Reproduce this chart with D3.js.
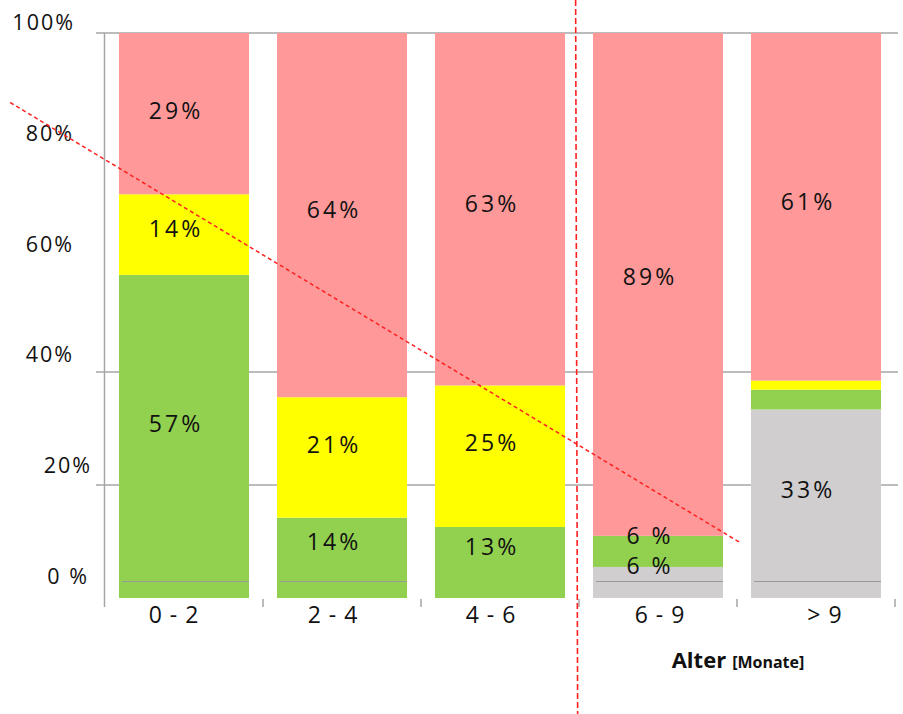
<!DOCTYPE html>
<html>
<head>
<meta charset="utf-8">
<script src="https://cdn.jsdelivr.net/npm/d3@7/dist/d3.min.js"></script>
<style>
  html, body { margin: 0; padding: 0; background: #fff; }
  svg { display: block; font-family: "Open Sans", "DejaVu Sans", sans-serif; }
</style>
</head>
<body>
<svg id="chart" width="903" height="714"></svg>
<script>
// ---- data ----
const categories = ["0 - 2", "2 - 4", "4 - 6", "6 - 9", "> 9"];
const seriesNames = ["grau", "grün", "gelb", "rot"];
const grau = [0, 0, 0, 5.5, 33.3];
const gruen = [57.3, 14.2, 12.6, 5.5, 3.5];
const gelb = [14.3, 21.3, 25.1, 0, 1.6];
const rot = [28.6, 64.4, 62.5, 89, 61.4];
const tickValues = [0, 20, 40, 60, 80, 100];
const tickLabels = ["0 %", "20%", "40%", "60%", "80%", "100%"];
const gridValues = [20, 40, 100];
const axisTitle = "Alter";
const axisUnit = "[Monate]";
// annotation: trend line in (category index, share) space, divider at category index
const trendLine = [[-1.1, 0.877], [3.52, 0.098]];
const dividerIndex = 2.485;
// which bars show the old 0% baseline artifact
const baselineBars = ["0 - 2", "2 - 4", "6 - 9", "> 9"];

// ---- layout / style ----
const colors = { "grau": "#D0CECE", "grün": "#92D050", "gelb": "#FFFF00", "rot": "#FF9999" };
const gridColor = "#a6a6a6";
const tickLabelRight = [89, 92, 74, 74, 74, 75];
const catLabelShift = [-10, -9, -9, 2, 9];
const barLabelShift = -8;
const minLabel = 4;

const svg = d3.select("#chart");

const x = d3.scaleBand().domain(categories).range([105, 895])
  .paddingInner(0.177).paddingOuter(0.0885);
const y = d3.scaleLinear().domain([0, 1]).range([598, 33]);
// label placement scale (labels were laid out against a 0% line at 581)
const yLab = d3.scaleLinear().domain([0, 1]).range([581, 33]);
const yTick = d3.scaleLinear().domain([0, 100]).range([576, 22]);
const xi = d3.scaleLinear().domain([0, categories.length - 1])
  .range([x(categories[0]) + x.bandwidth() / 2, x(categories[categories.length - 1]) + x.bandwidth() / 2]);

// gridlines
svg.append("g").selectAll("line").data(gridValues).join("line")
  .attr("x1", 96).attr("x2", 898)
  .attr("y1", d => y(d / 100)).attr("y2", d => y(d / 100))
  .attr("stroke", gridColor).attr("stroke-width", 1.5);

// stacked data
const rows = categories.map((c, i) => ({
  cat: c, "grau": grau[i], "grün": gruen[i], "gelb": gelb[i], "rot": rot[i]
}));
const stack = d3.stack().keys(seriesNames).offset(d3.stackOffsetExpand);
const layers = stack(rows);

const gLayers = svg.append("g").selectAll("g").data(layers).join("g")
  .attr("fill", d => colors[d.key]);
gLayers.selectAll("rect").data(d => d).join("rect")
  .attr("x", d => x(d.data.cat))
  .attr("width", x.bandwidth())
  .attr("y", d => y(d[1]))
  .attr("height", d => Math.max(0, y(d[0]) - y(d[1])));

// old baseline artifact
svg.append("g").selectAll("line").data(baselineBars).join("line")
  .attr("x1", d => x(d) + 3).attr("x2", d => x(d) + x.bandwidth())
  .attr("y1", yLab(0) + 0.5).attr("y2", yLab(0) + 0.5)
  .attr("stroke", "#9a9a9a").attr("stroke-width", 1.2);

// bar labels
const labelData = [];
layers.forEach(layer => {
  layer.forEach((d, i) => {
    const raw = rows[i][layer.key];
    const v = Math.round(raw);
    if (raw >= minLabel) labelData.push({ cat: d.data.cat, mid: (d[0] + d[1]) / 2, text: v < 10 ? v + " %" : v + "%" });
  });
});
svg.append("g").selectAll("text").data(labelData).join("text")
  .attr("x", d => x(d.cat) + x.bandwidth() / 2 + barLabelShift)
  .attr("y", d => yLab(d.mid) + 8)
  .attr("text-anchor", "middle")
  .attr("font-size", 23)
  .attr("letter-spacing", 3)
  .attr("fill", "#111")
  .text(d => d.text);

// y axis line
svg.append("line").attr("x1", 104.5).attr("x2", 104.5).attr("y1", y(1)).attr("y2", 607)
  .attr("stroke", gridColor).attr("stroke-width", 1.5);

// x ticks at category boundaries
const bounds = categories.map(c => x(c) - x.step() * x.paddingInner() / 2).slice(1);
bounds.push(x.range()[1]);
svg.append("g").selectAll("line").data(bounds).join("line")
  .attr("x1", d => d).attr("x2", d => d).attr("y1", 599).attr("y2", 607)
  .attr("stroke", gridColor).attr("stroke-width", 1.5);

// y tick labels
svg.append("g").selectAll("text").data(tickValues).join("text")
  .attr("x", (d, i) => tickLabelRight[i])
  .attr("y", d => yTick(d) + 8)
  .attr("text-anchor", "end")
  .attr("font-size", 21.5)
  .attr("letter-spacing", 2)
  .attr("fill", "#111")
  .text((d, i) => tickLabels[i]);

// category labels
svg.append("g").selectAll("text").data(categories).join("text")
  .attr("x", (d, i) => x(d) + x.bandwidth() / 2 + catLabelShift[i])
  .attr("y", 623)
  .attr("text-anchor", "middle")
  .attr("font-size", 23)
  .attr("letter-spacing", 1)
  .attr("fill", "#111")
  .text(d => d);

// axis title
const title = svg.append("text")
  .attr("x", 738).attr("y", 668).attr("text-anchor", "middle")
  .attr("font-weight", "bold").attr("fill", "#111");
title.append("tspan").attr("font-size", 22).text(axisTitle);
title.append("tspan").attr("font-size", 16).attr("dx", 6).text(axisUnit);

// annotations
svg.append("line")
  .attr("x1", xi(dividerIndex) - 1).attr("x2", xi(dividerIndex) + 1)
  .attr("y1", 0).attr("y2", 714)
  .attr("stroke", "#ff2020").attr("stroke-width", 1.6).attr("stroke-dasharray", "6,3");
svg.append("line")
  .attr("x1", xi(trendLine[0][0])).attr("y1", y(trendLine[0][1]))
  .attr("x2", xi(trendLine[1][0])).attr("y2", y(trendLine[1][1]))
  .attr("stroke", "#ff2020").attr("stroke-width", 1.5).attr("stroke-dasharray", "4,3");
</script>
</body>
</html>
